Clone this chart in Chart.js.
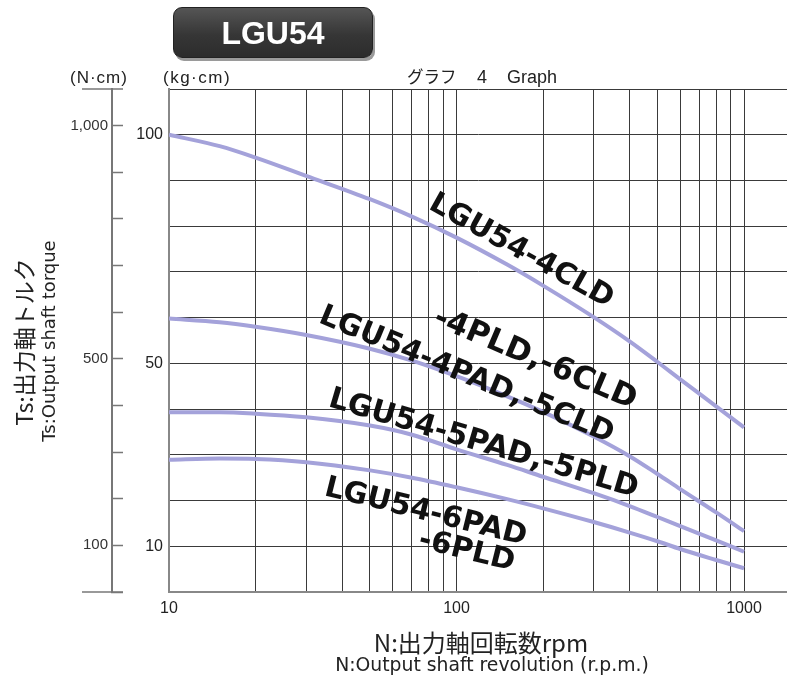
<!DOCTYPE html>
<html><head><meta charset="utf-8">
<script src="https://cdn.jsdelivr.net/npm/chart.js@4.4.1/dist/chart.umd.min.js"></script>
<style>
html,body{margin:0;padding:0;background:#fff;}
#wrap{position:relative;width:787px;height:679px;overflow:hidden;font-family:"Liberation Sans",Arial,sans-serif;}
canvas{position:absolute;left:0;top:0;}
.t{position:absolute;white-space:pre;color:#222;line-height:1;transform:translateY(-50%);}
.c{position:absolute;white-space:pre;line-height:1;transform-origin:center center;color:#222;}
.lbl{position:absolute;white-space:nowrap;font-family:"DejaVu Sans",sans-serif;font-weight:bold;font-size:29.5px;color:#111;line-height:1;transform-origin:center center;}
#badge{position:absolute;left:173px;top:7px;width:200px;height:51px;border-radius:9px;box-sizing:border-box;
 background:linear-gradient(#555,#363636 55%,#2c2c2c);box-shadow:2px 3px 0 #9a9a9a;border:1px solid #222;
 color:#fff;font:bold 32px "Liberation Sans",Arial,sans-serif;text-align:center;line-height:50px;}
</style></head>
<body><div id="wrap">
<canvas id="c" width="787" height="679"></canvas>
<div id="badge">LGU54</div>
<div class="t" style="left:70px;top:77px;font-size:17px;letter-spacing:1px;">(N·cm)</div>
<div class="t" style="left:163px;top:77px;font-size:17px;letter-spacing:1.5px;">(kg·cm)</div>
<div class="t" style="left:407px;top:76px;font-size:16.5px;font-family:'Noto Sans CJK JP',sans-serif;">グラフ</div>
<div class="t" style="left:477px;top:77px;font-size:18px;">4</div>
<div class="t" style="left:507px;top:77px;font-size:18px;">Graph</div>
<div class="c" id="yt1" style="font-size:23px;font-family:'Noto Sans CJK JP',sans-serif;">Ts:出力軸トルク</div>
<div class="c" id="yt2" style="font-size:18px;font-family:'DejaVu Sans',sans-serif;">Ts:Output shaft torque</div>
<div class="c" id="xt1" style="font-size:24px;font-family:'Noto Sans CJK JP',sans-serif;">N:出力軸回転数rpm</div>
<div class="c" id="xt2" style="font-size:18.8px;font-family:'DejaVu Sans',sans-serif;">N:Output shaft revolution (r.p.m.)</div>
<div class="lbl" id="l1">LGU54-4CLD</div>
<div class="lbl" id="l2" style="font-size:31px;">-4PLD,-6CLD</div>
<div class="lbl" id="l3">LGU54-4PAD,-5CLD</div>
<div class="lbl" id="l4" style="font-size:30px;">LGU54-5PAD,-5PLD</div>
<div class="lbl" id="l5">LGU54-6PAD</div>
<div class="lbl" id="l6">-6PLD</div>
</div>
<script>
// ---- data ----
const rpm        = [10,   15,   20,   30,   50,   70,   100,  150,  200,  300,  400,  500,  600,  800,  1000];
const torque4CLD = [100,  97.5, 95.0, 91.0, 85.9, 82.1, 77.5, 71.6, 67.0, 60.1, 54.8, 50.3, 46.5, 40.6, 36.0];
const torque4PAD = [59.8, 59.0, 58.0, 56.2, 53.2, 50.6, 47.2, 42.8, 39.4, 34.0, 29.7, 25.8, 22.5, 17.4, 13.3];
const torque5PAD = [39.3, 39.3, 39.0, 38.2, 36.4, 34.4, 31.2, 27.8, 25.2, 21.6, 18.8, 16.4, 14.4, 11.3, 8.8];
const torque6PAD = [28.9, 29.2, 29.1, 28.4, 26.6, 25.0, 22.9, 20.3, 18.3, 15.3, 13.0, 11.1, 9.4,  7.0,  5.2];
const seriesNames = ['LGU54-4CLD', 'LGU54-4PAD,-5CLD,-4PLD,-6CLD', 'LGU54-5PAD,-5PLD', 'LGU54-6PAD,-6PLD'];
const xGridTicks = [10,20,30,40,50,60,70,80,90,100,200,300,400,500,600,700,800,900,1000];
const xTickLabels = [10, 100, 1000];
const kgGridTicks = [0,10,20,30,40,50,60,70,80,90,100,110];
const kgTickLabels = [10, 50, 100];
const ncmGridTicks = [0,100,200,300,400,500,600,700,800,900,1000];
const ncmTickLabels = [100, 500, 1000];
const kgMax = 110;
const kgToNcm = 9.8;
const xMax = 1411;

// ---- overlay text placement ----
function place(id, cx, cy, deg){
  const el = document.getElementById(id);
  el.style.left = cx + 'px'; el.style.top = cy + 'px';
  el.style.transform = 'translate(-50%,-50%) rotate(' + deg + 'deg)';
}
place('yt1', 23, 342, -90);
place('yt2', 49, 341, -90);
place('xt1', 481, 642, 0);
place('xt2', 492, 665, 0);
place('l1', 522, 250, 29);
place('l2', 536, 357, 23);
place('l3', 467, 374, 22.5);
place('l4', 484, 442, 16.5);
place('l5', 426, 511, 14);
place('l6', 467, 550, 14);

const curves = [torque4CLD, torque4PAD, torque5PAD, torque6PAD];
const FONT = '"Liberation Sans", Arial, sans-serif';

const ncmAxisCaps = {
  id: 'ncmAxisCaps',
  afterDraw(chart){
    const s = chart.scales.y2, c = chart.ctx;
    c.save();
    c.strokeStyle = '#777'; c.lineWidth = 1.5;
    [s.getPixelForValue(0), s.getPixelForValue(s.max)].forEach(py => {
      c.beginPath(); c.moveTo(s.right - 30, py); c.lineTo(s.right + 11, py); c.stroke();
    });
    c.restore();
  }
};

new Chart(document.getElementById('c'), {
  type: 'line',
  data: {
    datasets: curves.map((arr, i) => ({
      label: seriesNames[i],
      data: rpm.map((x, j) => ({x: x, y: arr[j]})),
      borderColor: 'rgb(164,162,218)',
      borderWidth: 4,
      pointRadius: 0,
      fill: false,
      cubicInterpolationMode: 'monotone',
      yAxisID: 'y'
    }))
  },
  options: {
    responsive: false, animation: false, devicePixelRatio: 1,
    layout: {padding: {left: 0, right: 0, top: 89, bottom: 0}},
    plugins: {legend: {display: false}, tooltip: {enabled: false}},
    scales: {
      x: {
        type: 'logarithmic', min: 10, max: xMax, position: 'bottom',
        afterBuildTicks: s => { s.ticks = xGridTicks.map(v => ({value: v})); },
        afterFit: s => { s.height = 87; s.paddingLeft = 0; s.paddingRight = 0; },
        grid: {color: '#3a3a3a', lineWidth: 1, drawTicks: false},
        border: {color: '#888', width: 2},
        ticks: {autoSkip: false, maxRotation: 0, minRotation: 0, padding: 7, color: '#222',
          font: {family: FONT, size: 16},
          callback: v => xTickLabels.includes(v) ? String(v) : ''}
      },
      y: {
        type: 'linear', min: 0, max: kgMax, position: 'left', weight: 0,
        afterBuildTicks: s => { s.ticks = kgGridTicks.map(v => ({value: v})); },
        afterFit: s => { s.width = 57; s.paddingTop = 0; s.paddingBottom = 0; },
        grid: {color: '#3a3a3a', lineWidth: 1, drawTicks: false},
        border: {color: '#888', width: 2},
        ticks: {autoSkip: false, padding: 6, color: '#222', font: {family: FONT, size: 16},
          callback: v => kgTickLabels.includes(v) ? String(v) : ''}
      },
      y2: {
        type: 'linear', min: 0, max: kgMax * kgToNcm, position: 'left', weight: 1,
        afterBuildTicks: s => { s.ticks = ncmGridTicks.map(v => ({value: v})); },
        afterFit: s => { s.width = 112; s.paddingTop = 0; s.paddingBottom = 0; },
        grid: {drawOnChartArea: false, drawTicks: true, tickLength: -11, tickColor: '#777', tickWidth: 1.5},
        border: {display: true, color: '#777', width: 2},
        ticks: {autoSkip: false, padding: 15, color: '#333', font: {family: FONT, size: 15},
          callback: v => ncmTickLabels.includes(v) ? v.toLocaleString('en-US') : ''}
      }
    }
  },
  plugins: [ncmAxisCaps]
});
</script>
</body></html>
